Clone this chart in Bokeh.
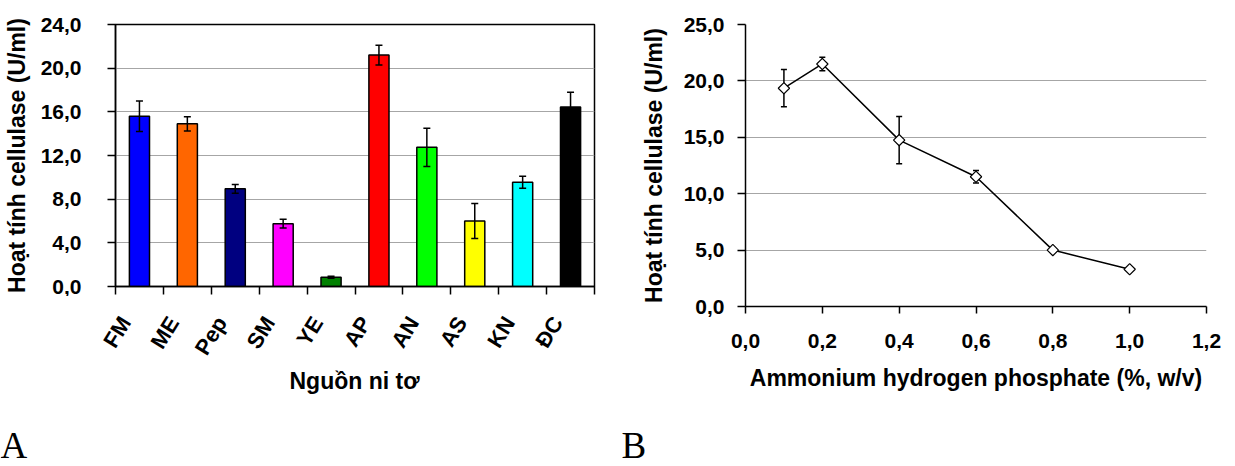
import numpy as np
from bokeh.plotting import figure
from bokeh.layouts import row, column
from bokeh.models import (ColumnDataSource, Range1d, FixedTicker, Whisker, TeeHead)
from bokeh.core.properties import value
from bokeh.embed import file_html
from bokeh.resources import INLINE

# ---------------- data ----------------
categories = ["FM", "ME", "Pep", "SM", "YE", "AP", "AN", "AS", "KN", "ĐC"]
activity_a = [15.6, 14.9, 8.95, 5.75, 0.85, 21.2, 12.75, 6.0, 9.55, 16.45]
error_a = [1.4, 0.65, 0.4, 0.4, 0.1, 0.9, 1.75, 1.6, 0.55, 1.35]
bar_colors = ["#0000FF", "#FF6600", "#000080", "#FF00FF", "#008000",
              "#FF0000", "#00FF00", "#FFFF00", "#00FFFF", "#000000"]

conc_b = [0.1, 0.2, 0.4, 0.6, 0.8, 1.0]
activity_b = [19.35, 21.5, 14.75, 11.5, 5.0, 3.3]
error_b = [1.65, 0.6, 2.1, 0.55, 0.1, 0.1]

y_ticks_a = [0, 4, 8, 12, 16, 20, 24]
y_ticks_b = [0, 5, 10, 15, 20, 25]
x_ticks_b = [0.0, 0.2, 0.4, 0.6, 0.8, 1.0, 1.2]
panel_letters = ["A", "B"]
xtitle_a = "Nguồn ni tơ"

FONT = "Liberation Sans"
TICK_SIZE = "21px"
CAT_SIZE = "22px"
XTITLE_SIZE = "23px"
YTITLE_SIZE = "23px"


def comma(v):
    return f"{v:.1f}".replace(".", ",")


def style_axis(ax):
    ax.axis_line_color = "black"
    ax.axis_line_width = 1.5
    ax.major_tick_line_color = "black"
    ax.major_tick_line_width = 1.5
    ax.minor_tick_line_color = "black"
    ax.minor_tick_line_width = 1.5
    ax.major_tick_in = 0
    ax.major_tick_out = 7
    ax.minor_tick_in = 0
    ax.minor_tick_out = 0
    ax.major_label_text_font = FONT
    ax.major_label_text_font_style = "bold"
    ax.major_label_text_font_size = TICK_SIZE
    ax.major_label_text_color = "black"
    ax.axis_label_text_font = FONT
    ax.axis_label_text_font_style = "bold"
    ax.axis_label_text_color = "black"


def blank(fig):
    fig.axis.visible = False
    fig.grid.visible = False
    fig.outline_line_color = None


# layout sizes (pixels)
A_LEFT, A_RIGHT, A_W = 114, 26, 620
A_H = 296
STRIP_H = 120
LETTER_H = 50
B_W, B_H = 615, 416

# ---------------- panel A ----------------
n = len(categories)
xpos = [i + 0.5 for i in range(n)]
src_a = ColumnDataSource(dict(
    x=xpos, top=activity_a, color=bar_colors,
    upper=[v + e for v, e in zip(activity_a, error_a)],
    lower=[v - e for v, e in zip(activity_a, error_a)],
))

p1 = figure(width=A_W, height=A_H, output_backend="svg", toolbar_location=None,
            x_range=Range1d(0, n), y_range=Range1d(0, 24),
            min_border_left=A_LEFT, min_border_right=A_RIGHT, min_border_top=24,
            min_border_bottom=10)
p1.vbar(x="x", top="top", width=0.42, bottom=0, fill_color="color",
        line_color="black", line_width=1.5, source=src_a)
w1 = Whisker(source=src_a, base="x", upper="upper", lower="lower",
             line_color="black", line_width=1.5, level="overlay",
             upper_head=TeeHead(size=7, line_width=1.5, line_color="black"),
             lower_head=TeeHead(size=7, line_width=1.5, line_color="black"))
p1.add_layout(w1)

xa = p1.xaxis[0]
ya = p1.yaxis[0]
style_axis(xa)
style_axis(ya)
xa.ticker = FixedTicker(ticks=list(range(n + 1)))
xa.major_label_text_alpha = 0
xa.major_label_text_font_size = "1px"
xa.major_label_standoff = 0
xa.major_tick_out = 8
ya.ticker = FixedTicker(ticks=y_ticks_a)
ya.major_label_overrides = {t: comma(t) for t in y_ticks_a}
ya.major_tick_out = 8
ya.major_label_standoff = 26
ya.axis_label = "Hoạt tính cellulase (U/ml)"
ya.axis_label_text_font_size = YTITLE_SIZE
ya.axis_label_standoff = 8
p1.xgrid.visible = False
p1.ygrid.grid_line_color = "#a6a6a6"
p1.ygrid.grid_line_width = 1.2
p1.outline_line_color = "black"
p1.outline_line_width = 1.5
p1.outline_line_alpha = 1

# strip under panel A: slanted category labels + axis title
frame_w = A_W - A_LEFT - A_RIGHT
cat_px = frame_w / n
s1 = figure(width=A_W, height=STRIP_H, output_backend="svg", toolbar_location=None,
            x_range=Range1d(-A_LEFT / cat_px, n + A_RIGHT / cat_px),
            y_range=Range1d(-STRIP_H, 0),
            min_border=0, min_border_left=0, min_border_right=0,
            min_border_top=0, min_border_bottom=0)
blank(s1)
s1.text(x=xpos, y=[-22] * n, text=categories, angle=45,
        x_offset=-13, text_align="right", text_baseline="middle",
        text_font=value(FONT), text_font_style="bold",
        text_font_size=CAT_SIZE, text_color="black")
s1.text(x=[n / 2], y=[-84], text=[xtitle_a], text_align="center",
        text_baseline="middle", text_font=value(FONT), text_font_style="bold",
        text_font_size=XTITLE_SIZE, text_color="black")

# ---------------- panel B ----------------
src_b = ColumnDataSource(dict(
    x=conc_b, y=activity_b,
    upper=[v + e for v, e in zip(activity_b, error_b)],
    lower=[v - e for v, e in zip(activity_b, error_b)],
))

p2 = figure(width=B_W, height=B_H, output_backend="svg", toolbar_location=None,
            x_range=Range1d(0, 1.2), y_range=Range1d(0, 25),
            min_border_left=125, min_border_right=29, min_border_top=24,
            min_border_bottom=110)
w2 = Whisker(source=src_b, base="x", upper="upper", lower="lower",
             line_color="black", line_width=1.5,
             upper_head=TeeHead(size=6, line_width=1.5, line_color="black"),
             lower_head=TeeHead(size=6, line_width=1.5, line_color="black"))
p2.add_layout(w2)
p2.line("x", "y", source=src_b, line_color="black", line_width=1.5)
p2.scatter("x", "y", source=src_b, marker="square", angle=np.pi / 4, size=8,
           fill_color="white", line_color="black", line_width=1.2)

xb = p2.xaxis[0]
yb = p2.yaxis[0]
style_axis(xb)
style_axis(yb)
xb.ticker = FixedTicker(ticks=x_ticks_b)
xb.major_label_overrides = {t: comma(t) for t in x_ticks_b}
yb.ticker = FixedTicker(ticks=y_ticks_b)
yb.major_label_overrides = {t: comma(t) for t in y_ticks_b}
xb.major_tick_out = 7
yb.major_tick_out = 8
xb.major_label_standoff = 20
yb.major_label_standoff = 13
xb.axis_label = "Ammonium hydrogen phosphate (%, w/v)"
xb.axis_label_text_font_size = XTITLE_SIZE
xb.axis_label_standoff = 14
yb.axis_label = "Hoạt tính cellulase (U/ml)"
yb.axis_label_text_font_size = YTITLE_SIZE
yb.axis_label_standoff = 14
p2.xgrid.visible = False
p2.ygrid.grid_line_color = "#a6a6a6"
p2.ygrid.grid_line_width = 1.2
p2.outline_line_color = None

# ---------------- panel letters ----------------
p3 = figure(width=A_W + B_W, height=LETTER_H, output_backend="svg", toolbar_location=None,
            x_range=Range1d(0, A_W + B_W), y_range=Range1d(0, LETTER_H),
            min_border=0, min_border_left=0, min_border_right=0,
            min_border_top=0, min_border_bottom=0)
blank(p3)
p3.text(x=[0, A_W + 1], y=[1, 1], text=panel_letters,
        text_font=value("Liberation Serif"), text_font_size="37px",
        text_color="black", text_baseline="bottom", text_align="left")

layout = column(row(column(p1, column(s1)), p2), p3)
open("out.html", "w").write(file_html(layout, INLINE))
